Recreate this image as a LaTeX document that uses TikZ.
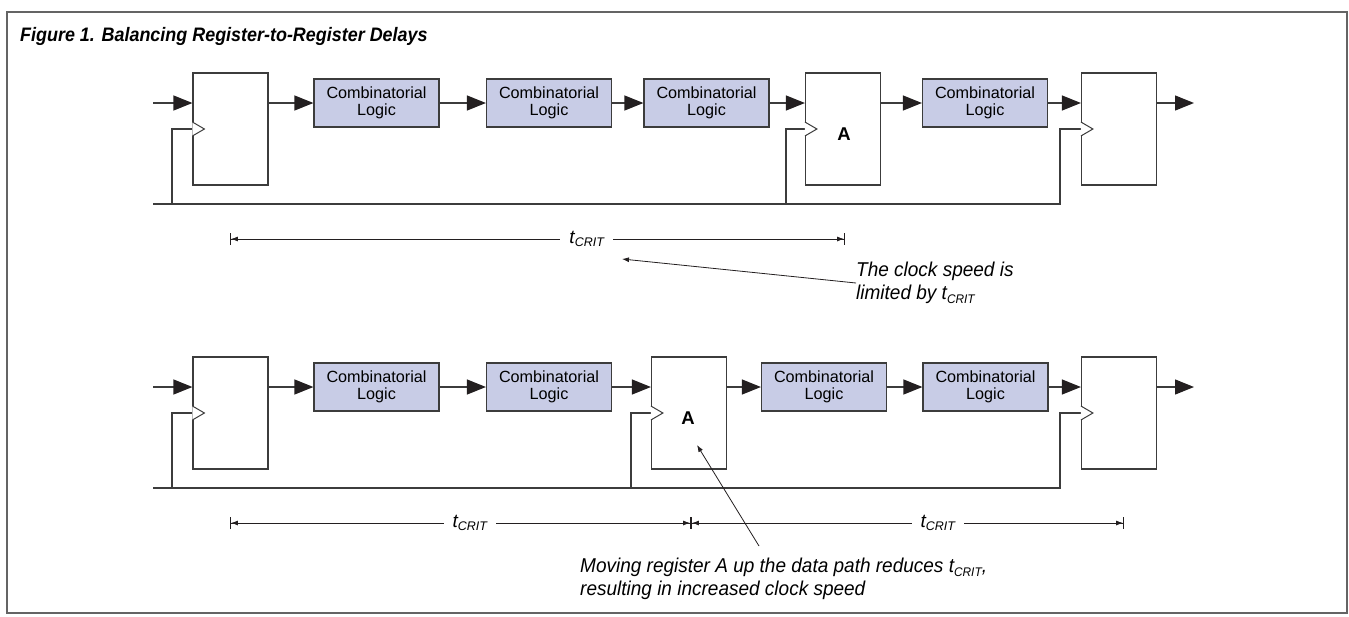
\documentclass[tikz,border=0pt]{standalone}
\usepackage{fontspec}
\setmainfont{Liberation Sans}
\newfontfamily\condit[FakeStretch=0.95]{Liberation Sans}
\newfontfamily\condtitle[FakeStretch=0.92]{Liberation Sans}
\usetikzlibrary{arrows.meta,calc}
\definecolor{boxfill}{RGB}{200,204,230}
\definecolor{linec}{RGB}{60,60,60}
\definecolor{tipc}{RGB}{35,31,32}
\definecolor{framec}{RGB}{100,100,100}
\newcommand\tcrit{\textit{t\raisebox{-0.35ex}{\fontsize{12.5}{12.5}\selectfont CRIT}}}
\newcommand\tcritc{t\raisebox{-0.35ex}{\fontsize{12.5}{12.5}\selectfont CRIT}}
\begin{document}
\begin{tikzpicture}[x=1pt,y=-1pt,
  reg/.style={draw=linec, line width=1.2pt, fill=white, minimum width=75pt, minimum height=112pt, inner sep=0pt},
  comb/.style={draw=linec, line width=1.2pt, fill=boxfill, minimum width=125pt, minimum height=48pt, inner sep=0pt, align=center, font=\fontsize{16.2}{16.8}\selectfont},
  flow/.style={draw=linec, line width=1.3pt, -{Triangle[length=19pt,width=15pt,fill=tipc,color=tipc]}},
  wire/.style={draw=linec, line width=1.3pt},
  clk/.style={draw=linec, line width=1pt, fill=white},
  dim/.style={draw=tipc, line width=0.9pt, {Bar[width=12pt]Latex[length=7pt,width=5pt]}-{Latex[length=7pt,width=5pt]Bar[width=12pt]}},
  lab/.style={fill=white, inner xsep=9pt, inner ysep=1pt, font=\fontsize{19}{19}\selectfont},
  lead/.style={draw=tipc, line width=0.8pt, -{Latex[length=7pt,width=5pt]}},
  note/.style={align=left, inner sep=0pt, font=\condit\itshape\fontsize{20}{23}\selectfont},
  alab/.style={font=\bfseries\fontsize{18.5}{18.5}\selectfont, inner sep=0pt}
]
\useasboundingbox (0,0) rectangle (1349,616);
\draw[framec, line width=1.2pt] (7,12) rectangle (1347,613);
\node[anchor=west, inner sep=0pt, font=\condtitle\bfseries\itshape\fontsize{19.5}{19.5}\selectfont] (title) at (20,36) {Figure 1. Balancing Register-to-Register Delays};

% ---------------- top row ----------------
\node[reg] (r1) at (230.5,129) {};
\node[reg] (rA) at (843,129) {};
\node[reg] (r3) at (1119,129) {};
\node[alab] (aTop) at (844,134) {A};
\node[comb] (b1) at (376.5,103) {Combinatorial\\Logic};
\node[comb] (b2) at (549,103) {Combinatorial\\Logic};
\node[comb] (b3) at (706.5,103) {Combinatorial\\Logic};
\node[comb] (b4) at (985,103) {Combinatorial\\Logic};
\coordinate (in1) at (153,103);
\coordinate (out1) at (1194,103);
\draw[flow] (in1) -- (in1 -| r1.west);
\draw[flow] (r1.east |- b1.west) -- (b1.west);
\draw[flow] (b1.east) -- (b2.west);
\draw[flow] (b2.east) -- (b3.west);
\draw[flow] (b3.east) -- (b3.east -| rA.west);
\draw[flow] (rA.east |- b4.west) -- (b4.west);
\draw[flow] (b4.east) -- (b4.east -| r3.west);
\draw[flow] (r3.east |- out1) -- (out1);
\coordinate (bus0) at (153,204);
\coordinate (c1) at (172,204);
\coordinate (cA) at (786,204);
\coordinate (c3) at (1060,204);
\draw[wire] (bus0) -- (c3) |- (r3.west);
\draw[wire] (c1) |- (r1.west);
\draw[wire] (cA) |- (rA.west);
\foreach \r in {r1,rA,r3}{
  \draw[clk] ($(\r.west)+(0,-7)$) -- ++(12,7) -- ++(-12,7);
}
% top dimension
\coordinate (d1a) at (230,239);
\coordinate (d1b) at (845,239);
\draw[dim] (d1a) -- (d1b) node[pos=0.58, lab] (tc1) {\tcrit};
\coordinate (n1) at (856,283);
\coordinate (n1tip) at (622,259);
\draw[lead] (n1) -- (n1tip);
\node[note, anchor=west] (note1) at (856,283) {The clock speed is\\limited by \tcritc};

% ---------------- bottom row ----------------
\node[reg] (s1) at (230.5,413) {};
\node[reg] (sA) at (689,413) {};
\node[reg] (s3) at (1119,413) {};
\node[alab] (aBot) at (688,418) {A};
\node[comb] (e1) at (376.5,387) {Combinatorial\\Logic};
\node[comb] (e2) at (549,387) {Combinatorial\\Logic};
\node[comb] (e3) at (824,387) {Combinatorial\\Logic};
\node[comb] (e4) at (985.5,387) {Combinatorial\\Logic};
\coordinate (in2) at (153,387);
\coordinate (out2) at (1194,387);
\draw[flow] (in2) -- (in2 -| s1.west);
\draw[flow] (s1.east |- e1.west) -- (e1.west);
\draw[flow] (e1.east) -- (e2.west);
\draw[flow] (e2.east) -- (e2.east -| sA.west);
\draw[flow] (sA.east |- e3.west) -- (e3.west);
\draw[flow] (e3.east) -- (e4.west);
\draw[flow] (e4.east) -- (e4.east -| s3.west);
\draw[flow] (s3.east |- out2) -- (out2);
\coordinate (bus2) at (153,488);
\coordinate (k1) at (172,488);
\coordinate (kA) at (631,488);
\coordinate (k3) at (1060,488);
\draw[wire] (bus2) -- (k3) |- (s3.west);
\draw[wire] (k1) |- (s1.west);
\draw[wire] (kA) |- (sA.west);
\foreach \r in {s1,sA,s3}{
  \draw[clk] ($(\r.west)+(0,-7)$) -- ++(12,7) -- ++(-12,7);
}
% bottom dimensions
\coordinate (d2a) at (230,523);
\coordinate (d2m) at (691,523);
\coordinate (d2b) at (1124,523);
\draw[dim] (d2a) -- (d2m) node[pos=0.52, lab] (tc2) {\tcrit};
\draw[dim] (d2m) -- (d2b) node[pos=0.57, lab] (tc3) {\tcrit};
\coordinate (n2) at (759,546);
\coordinate (n2tip) at (697,445);
\draw[lead] (n2) -- (n2tip);
\node[note, anchor=west] (note2) at (580,579) {Moving register A up the data path reduces \tcritc,\\resulting in increased clock speed};
\end{tikzpicture}
\end{document}
